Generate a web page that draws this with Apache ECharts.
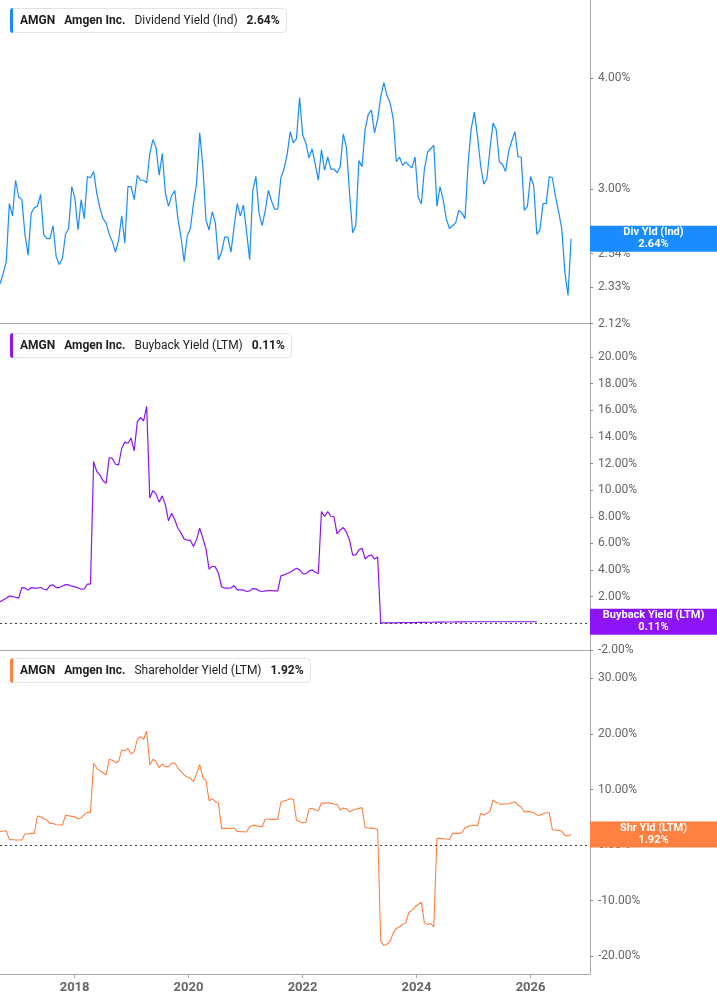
<!DOCTYPE html>
<html>
<head>
<meta charset="utf-8">
<title>AMGN - Amgen Inc. yields</title>
<script src="https://cdn.jsdelivr.net/npm/echarts@6/dist/echarts.min.js"></script>
<style>
html, body { margin: 0; padding: 0; background: #fff; }
#chart { width: 717px; height: 1005px; }
</style>
</head>
<body>
<div id="chart"></div>
<script>
// one reading every 20 days, first one on 2016-09-10
var startDay = Date.UTC(2016, 8, 10);
var stepDays = 20;

// Dividend Yield (Ind), %
var divYield = [
  2.35, 2.41, 2.49, 2.89, 2.80, 3.07, 2.94, 2.92, 2.67, 2.53,
  2.82, 2.86, 2.87, 2.96, 2.67, 2.64, 2.64, 2.73, 2.52, 2.47,
  2.51, 2.67, 2.71, 3.02, 2.93, 2.70, 2.92, 2.78, 3.10, 3.09,
  3.14, 2.97, 2.86, 2.78, 2.75, 2.67, 2.62, 2.55, 2.63, 2.80,
  2.61, 3.02, 3.02, 2.92, 3.11, 3.07, 3.07, 3.05, 3.29, 3.41,
  3.34, 3.11, 3.29, 2.97, 2.87, 2.95, 2.99, 2.78, 2.65, 2.49,
  2.66, 2.71, 2.89, 3.05, 3.47, 3.18, 2.77, 2.70, 2.83, 2.75,
  2.50, 2.55, 2.65, 2.65, 2.55, 2.72, 2.89, 2.80, 2.88, 2.69,
  2.50, 2.99, 3.10, 2.82, 2.73, 2.84, 2.99, 2.91, 2.85, 2.85,
  3.09, 3.16, 3.28, 3.48, 3.38, 3.42, 3.80, 3.45, 3.38, 3.25,
  3.33, 3.20, 3.07, 3.32, 3.15, 3.26, 3.16, 3.16, 3.13, 3.18,
  3.46, 3.34, 2.97, 2.68, 2.73, 3.23, 3.18, 3.50, 3.64, 3.68,
  3.47, 3.59, 3.81, 3.95, 3.82, 3.75, 3.60, 3.22, 3.26, 3.19,
  3.22, 3.19, 3.17, 3.26, 2.94, 2.89, 3.16, 3.30, 3.33, 3.36,
  2.87, 3.02, 2.92, 2.78, 2.71, 2.73, 2.75, 2.84, 2.82, 2.78,
  3.21, 3.51, 3.66, 3.44, 3.19, 3.04, 3.08, 3.33, 3.56, 3.50,
  3.22, 3.20, 3.14, 3.31, 3.40, 3.48, 3.26, 3.26, 2.84, 2.87,
  3.10, 3.03, 2.67, 2.70, 2.89, 2.89, 3.10, 3.09, 2.94, 2.83,
  2.71, 2.42, 2.28, 2.64
];

// Buyback Yield (LTM), %
var buybackYield = [
  1.62, 1.75, 1.88, 2.05, 2.00, 1.95, 1.88, 2.68, 2.63, 2.50,
  2.68, 2.63, 2.63, 2.70, 2.55, 2.50, 2.83, 2.88, 2.68, 2.68,
  2.80, 2.90, 2.88, 2.78, 2.73, 2.65, 2.55, 2.58, 2.93, 2.93,
  12.15, 11.40, 11.15, 10.70, 10.52, 12.45, 12.38, 11.95, 11.90, 13.15,
  13.61, 13.53, 13.91, 12.95, 15.16, 15.46, 15.21, 16.30, 9.40, 9.97,
  9.70, 9.10, 9.57, 8.89, 7.69, 8.27, 7.77, 7.14, 6.77, 6.34,
  6.24, 6.22, 5.76, 6.30, 7.14, 6.39, 5.59, 4.06, 4.28, 4.23,
  3.76, 2.73, 2.63, 2.63, 2.65, 2.83, 2.50, 2.50, 2.50, 2.38,
  2.43, 2.60, 2.58, 2.43, 2.38, 2.43, 2.45, 2.45, 2.43, 2.43,
  3.56, 3.63, 3.73, 3.83, 3.98, 4.13, 4.01, 3.73, 3.71, 3.91,
  4.01, 3.83, 3.73, 8.39, 8.02, 8.39, 8.04, 8.02, 6.71, 7.01,
  7.19, 6.84, 6.26, 5.11, 5.14, 5.51, 5.64, 4.83, 5.04, 5.14,
  4.83, 4.98, 0.02, 0.02, 0.02, 0.03, 0.03, 0.03, 0.04, 0.04,
  0.04, 0.05, 0.05, 0.05, 0.06, 0.06, 0.06, 0.07, 0.07, 0.07,
  0.08, 0.08, 0.08, 0.09, 0.09, 0.09, 0.10, 0.10, 0.10, 0.10,
  0.11, 0.11, 0.11, 0.11, 0.11, 0.11, 0.11, 0.11, 0.11, 0.11,
  0.11, 0.11, 0.11, 0.11, 0.11, 0.11, 0.11, 0.11, 0.11, 0.11,
  0.11, 0.11, 0.11
];

// Shareholder Yield (LTM), %
var shrYield = [
  2.40, 2.52, 2.55, 1.02, 0.96, 0.90, 0.90, 0.90, 1.98, 2.04,
  2.10, 2.10, 5.23, 5.11, 4.74, 4.50, 3.90, 3.90, 3.66, 3.60,
  3.60, 5.35, 5.29, 5.17, 5.05, 4.74, 4.92, 5.47, 5.89, 5.89,
  14.71, 13.81, 13.39, 13.03, 12.61, 15.44, 15.26, 14.83, 15.02, 17.12,
  16.99, 17.42, 16.40, 16.81, 19.04, 19.52, 19.04, 20.54, 14.41, 15.44,
  15.08, 13.93, 14.59, 14.11, 14.11, 14.71, 14.77, 13.87, 13.27, 12.61,
  12.25, 12.01, 11.41, 12.90, 14.50, 12.19, 11.59, 7.99, 8.35, 7.81,
  7.51, 3.00, 3.00, 3.00, 2.94, 3.06, 2.46, 2.40, 2.40, 2.34,
  3.30, 3.54, 3.54, 3.36, 3.30, 4.68, 4.68, 4.62, 4.62, 4.62,
  7.75, 7.93, 8.11, 8.35, 8.23, 4.50, 4.20, 4.02, 4.08, 6.49,
  6.61, 6.31, 6.19, 7.63, 7.51, 7.63, 7.51, 7.39, 7.33, 6.31,
  6.67, 6.55, 6.01, 6.25, 6.43, 6.61, 6.73, 3.12, 3.12, 3.00,
  3.00, 2.82, -17.24, -18.08, -17.84, -17.30, -15.80, -15.00, -14.71, -14.29,
  -14.00, -12.13, -11.71, -11.11, -10.69, -10.27, -14.00, -14.29, -14.11, -14.71,
  1.20, 1.20, 1.14, 1.08, 1.02, 2.10, 2.10, 2.10, 2.22, 3.12,
  3.36, 3.48, 3.60, 3.42, 5.71, 5.41, 5.71, 6.13, 8.11, 7.69,
  7.45, 7.33, 7.39, 7.45, 7.63, 7.81, 7.15, 6.91, 5.95, 6.07,
  6.01, 5.83, 5.41, 5.35, 5.65, 5.83, 5.83, 2.76, 2.70, 2.64,
  2.52, 1.74, 1.62, 1.92
];

var divTicks = [2.12, 2.33, 2.54, 3.00, 4.00];
var buybackTicks = [-2, 0, 2, 4, 6, 8, 10, 12, 14, 16, 18, 20];
var shrTicks = [-20, -10, 0, 10, 20, 30];
var yearTicks = ['2018-01-01', '2020-01-01', '2022-01-01', '2024-01-01', '2026-01-01'];

var FONT = 'Roboto, sans-serif';
var GREY = '#a9a9a9';
var BLUE = '#1a8cff';
var PURPLE = '#8c14f7';
var ORANGE = '#ff8040';

var xMin = Date.UTC(2016, 8, 10);
var xMax = Date.UTC(2027, 0, 17);
var yearStamps = yearTicks.map(function (d) { return +new Date(d + 'T00:00:00Z'); });

function pairs(values) {
    return values.map(function (v, i) {
        return [startDay + i * stepDays * 86400000, v];
    });
}
function pct(v) { return Number(v).toFixed(2) + '%'; }
function last(arr) { return arr[arr.length - 1]; }

// dates kept as UTC timestamps on a plain value axis
function xAxisFor(idx, withLabels) {
    return {
        type: 'value', gridIndex: idx, min: xMin, max: xMax, scale: true,
        axisLine: { show: true, onZero: false, lineStyle: { color: GREY, width: 1 } },
        axisTick: { show: withLabels, customValues: yearStamps, length: 4, lineStyle: { color: GREY } },
        axisLabel: {
            show: withLabels, customValues: yearStamps, margin: 7,
            formatter: function (v) { return String(new Date(v).getUTCFullYear()); },
            color: '#666', fontSize: 13, fontWeight: 'bold', fontFamily: FONT
        },
        splitLine: { show: false }
    };
}

function yAxisFor(idx, type, min, max, ticks) {
    return {
        type: type, gridIndex: idx, position: 'right', min: min, max: max,
        axisLine: { show: true, onZero: false, lineStyle: { color: GREY, width: 1 } },
        axisTick: { show: true, customValues: ticks, length: 3, lineStyle: { color: '#8a8a8a' } },
        axisLabel: { customValues: ticks, formatter: pct, margin: 8, color: '#666', fontSize: 12, fontFamily: FONT },
        splitLine: { show: false }
    };
}

// tag box on the right edge (+ optional dotted zero line)
function tagLine(value, name, color, zero) {
    var data = [];
    if (zero) {
        data.push({ yAxis: 0, lineStyle: { type: [2, 3], color: '#444', width: 1 }, label: { show: false } });
    }
    data.push({
        yAxis: value,
        lineStyle: { color: 'rgba(0,0,0,0)', width: 1, opacity: 1 },
        label: {
            show: true, position: 'end', distance: 0, opacity: 1,
            formatter: '{a|' + name + '}\n{a|' + pct(value) + '}',
            backgroundColor: color, padding: [1, 0],
            rich: { a: { width: 127, align: 'center', color: '#fff', fontWeight: 'bold', fontSize: 11, lineHeight: 12, fontFamily: FONT } }
        }
    });
    return { silent: true, symbol: 'none', animation: false, data: data };
}

function headTitle(top, metric, value, color) {
    return {
        left: 10, top: top, padding: [0, 7, 0, 0],
        borderColor: '#e3e3e3', borderWidth: 1, borderRadius: 4,
        text: '{bar|}{sp|}{b|AMGN}{g|}{b|Amgen Inc.}{g|}{n|' + metric + '}{g|}{b|' + pct(value) + '}',
        textStyle: {
            rich: {
                bar: { width: 3, height: 25, backgroundColor: color, borderRadius: [3, 0, 0, 3], verticalAlign: 'middle' },
                sp: { width: 7, height: 25 },
                g: { width: 9, height: 25 },
                b: { fontFamily: FONT, fontSize: 12, fontWeight: 'bold', color: '#1e1e1e', verticalAlign: 'middle' },
                n: { fontFamily: FONT, fontSize: 12, fontWeight: 'normal', color: '#1e1e1e', verticalAlign: 'middle' }
            }
        }
    };
}

var chart = echarts.init(document.getElementById('chart'), null, { renderer: 'canvas' });

var option = {
    animation: false,
    backgroundColor: '#fff',
    title: [
        headTitle(8, 'Dividend Yield (Ind)', last(divYield), BLUE),
        headTitle(333, 'Buyback Yield (LTM)', last(buybackYield), PURPLE),
        headTitle(658, 'Shareholder Yield (LTM)', last(shrYield), ORANGE)
    ],
    grid: [
        { left: 0, right: 127, top: 0, height: 323.6 },
        { left: 0, right: 127, top: 323.6, height: 326.2 },
        { left: 0, right: 127, top: 649.8, height: 324.2 }
    ],
    xAxis: [xAxisFor(0, false), xAxisFor(1, false), xAxisFor(2, true)],
    yAxis: [
        yAxisFor(0, 'log', 2.12, 4.89, divTicks),
        yAxisFor(1, 'value', -2, 22.52, buybackTicks),
        yAxisFor(2, 'value', -23.2, 35.14, shrTicks)
    ],
    series: [
        {
            name: 'Dividend Yield (Ind)', type: 'line', xAxisIndex: 0, yAxisIndex: 0,
            data: pairs(divYield), symbol: 'none', color: BLUE,
            lineStyle: { width: 1.2, color: BLUE },
            markLine: tagLine(last(divYield), 'Div Yld (Ind)', BLUE, false)
        },
        {
            name: 'Buyback Yield (LTM)', type: 'line', xAxisIndex: 1, yAxisIndex: 1,
            data: pairs(buybackYield), symbol: 'none', color: PURPLE,
            lineStyle: { width: 1.2, color: PURPLE },
            markLine: tagLine(last(buybackYield), 'Buyback Yield (LTM)', PURPLE, true)
        },
        {
            name: 'Shareholder Yield (LTM)', type: 'line', xAxisIndex: 2, yAxisIndex: 2,
            data: pairs(shrYield), symbol: 'none', color: ORANGE,
            lineStyle: { width: 1.1, color: ORANGE },
            markLine: tagLine(last(shrYield), 'Shr Yld (LTM)', ORANGE, true)
        }
    ]
};

chart.setOption(option);
</script>
</body>
</html>
